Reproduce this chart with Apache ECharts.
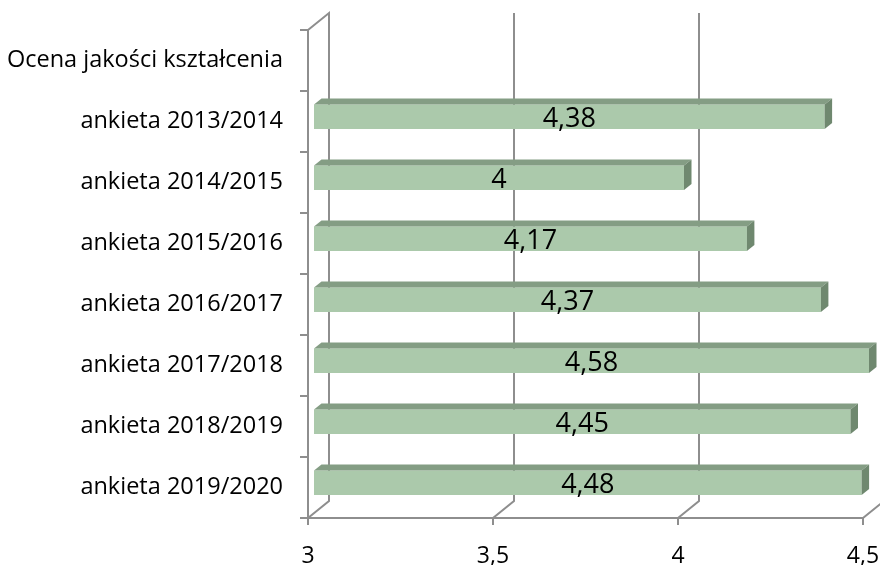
<!DOCTYPE html>
<html>
<head>
<meta charset="utf-8">
<script src="https://cdn.jsdelivr.net/npm/echarts@6/dist/echarts.min.js"></script>
<style>
html,body{margin:0;padding:0;background:#fff;}
#chart{width:880px;height:565px;}
</style>
</head>
<body>
<div id="chart"></div>
<script>
var categories = ["Ocena jakości kształcenia","ankieta 2013/2014","ankieta 2014/2015","ankieta 2015/2016","ankieta 2016/2017","ankieta 2017/2018","ankieta 2018/2019","ankieta 2019/2020"];
var values = [null, 4.38, 4, 4.17, 4.37, 4.58, 4.45, 4.48];
var xTicks = [3, 3.5, 4, 4.5];
var xMin = 3, xMax = 4.5, xStep = 0.5;

var FONT = '"Open Sans", "DejaVu Sans", sans-serif';
var GRID = '#8e8e8e';
var DEPTH_X = 21, DEPTH_Y = -17;

function fmt(v){ return String(v).replace('.', ','); }

var chart = echarts.init(document.getElementById('chart'), null, {renderer:'canvas'});

var barData = values.map(function(v, i){ return [v, i]; });
var gridData = xTicks.map(function(v){ return [v, 0]; });

chart.setOption({
  animation:false,
  backgroundColor:'#fff',
  grid:{left:308, right:17, top:30, bottom:47, containLabel:false, outerBoundsMode:'none'},
  xAxis:{
    type:'value', min:xMin, max:xMax, interval:xStep,
    axisLine:{show:true, lineStyle:{color:GRID, width:2}},
    axisTick:{show:true, length:7, lineStyle:{color:GRID, width:2}},
    splitLine:{show:false},
    axisLabel:{color:'#000', fontFamily:FONT, fontSize:23, margin:27, formatter:function(v){return fmt(v);}}
  },
  yAxis:{
    type:'category', inverse:true, data:categories,
    axisLine:{show:true, lineStyle:{color:GRID, width:2}},
    axisTick:{show:true, length:8, lineStyle:{color:GRID, width:2}},
    splitLine:{show:false},
    axisLabel:{color:'#000', fontFamily:FONT, fontSize:23.5, margin:25, padding:[12,0,0,0]}
  },
  series:[
    {
      type:'custom', clip:false, z:1, silent:true,
      data:gridData,
      renderItem:function(params, api){
        var cs = params.coordSys;
        var x = api.coord([api.value(0), 0])[0];
        var top = cs.y, bot = cs.y + cs.height;
        var pts = [];
        if (params.dataIndex === 0) pts.push([x, top]);
        pts.push([x + DEPTH_X, top + DEPTH_Y]);
        pts.push([x + DEPTH_X, bot + DEPTH_Y]);
        pts.push([x, bot]);
        return {type:'polyline', shape:{points:pts}, style:{stroke:GRID, lineWidth:2, fill:null}};
      }
    },
    {
      type:'custom', clip:false, z:3, silent:true,
      data:barData,
      renderItem:function(params, api){
        var v = api.value(0);
        if (v == null || isNaN(v)) return null;
        var idx = api.value(1);
        var vc = Math.min(v, xMax);
        var p0 = api.coord([xMin, idx]);
        var p1 = api.coord([vc, idx]);
        var c = p0[1];
        var xL = p0[0] + 6, xR = p1[0] + 6;
        var t = c - 17, b = c + 7.5;
        var dx = 7.5, dy = -6;
        return {type:'group', children:[
          {type:'rect', shape:{x:xL, y:t, width:xR-xL, height:b-t}, style:{fill:'#abc9ab'}},
          {type:'polygon', shape:{points:[[xL,t],[xL+dx,t+dy],[xR+dx,t+dy],[xR,t]]}, style:{fill:'#849d84'}},
          {type:'polygon', shape:{points:[[xR,t],[xR+dx,t+dy],[xR+dx,b+dy],[xR,b]]}, style:{fill:'#6f886f'}},
          {type:'text', style:{text:fmt(v), x:(xL+xR)/2, y:(t+b)/2 + 2.5, align:'center', verticalAlign:'middle', fill:'#000', font:'27px ' + FONT}}
        ]};
      }
    }
  ]
});
</script>
</body>
</html>
